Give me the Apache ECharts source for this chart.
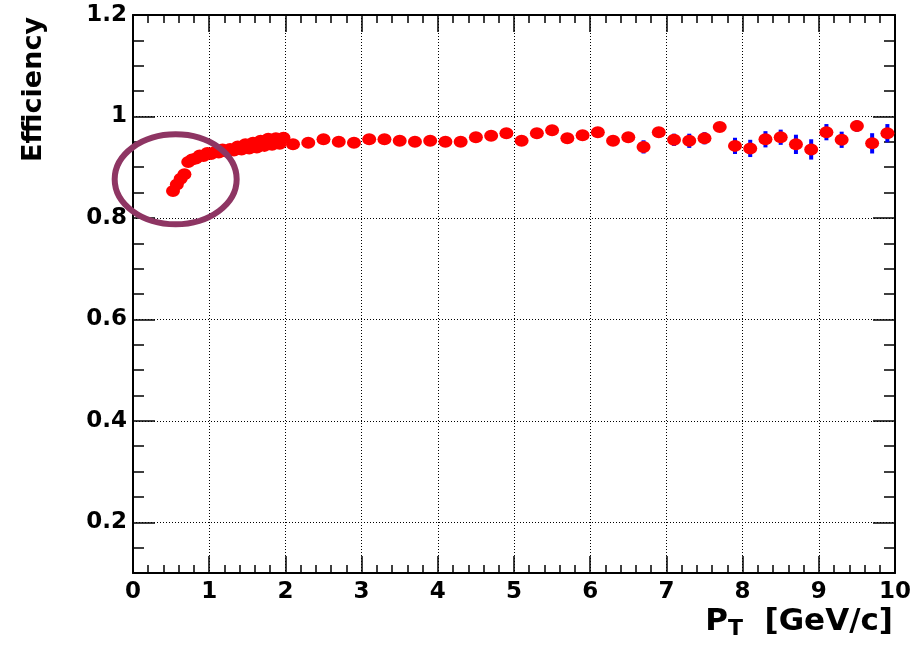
<!DOCTYPE html>
<html>
<head>
<meta charset="utf-8">
<script src="https://cdn.jsdelivr.net/npm/echarts@6/dist/echarts.min.js"></script>
<style>
  html, body { margin: 0; padding: 0; background: #fff; }
  #chart { width: 913px; height: 646px; }
</style>
</head>
<body>
<div id="chart"></div>
<script>
// pT bin centres [GeV/c]
const pt = [
  0.525, 0.575, 0.625, 0.675, 0.725, 0.775, 0.825, 0.875, 0.925, 0.975,
  1.025, 1.075, 1.125, 1.175, 1.225, 1.275, 1.325, 1.375, 1.425, 1.475,
  1.525, 1.575, 1.625, 1.675, 1.725, 1.775, 1.825, 1.875, 1.925, 1.975,
  2.1, 2.3, 2.5, 2.7, 2.9, 3.1, 3.3, 3.5, 3.7, 3.9,
  4.1, 4.3, 4.5, 4.7, 4.9, 5.1, 5.3, 5.5, 5.7, 5.9,
  6.1, 6.3, 6.5, 6.7, 6.9, 7.1, 7.3, 7.5, 7.7, 7.9,
  8.1, 8.3, 8.5, 8.7, 8.9, 9.1, 9.3, 9.5, 9.7, 9.9
];
const eff = [
  0.853, 0.866, 0.877, 0.886, 0.910, 0.915, 0.917, 0.923, 0.922, 0.928,
  0.926, 0.930, 0.929, 0.935, 0.931, 0.936, 0.933, 0.941, 0.935, 0.945,
  0.937, 0.948, 0.939, 0.952, 0.942, 0.956, 0.944, 0.957, 0.946, 0.958,
  0.945, 0.948, 0.955, 0.950, 0.948, 0.955, 0.955, 0.952, 0.950, 0.952,
  0.950, 0.950, 0.959, 0.962, 0.967, 0.952, 0.967, 0.973, 0.957, 0.963,
  0.969, 0.952, 0.959, 0.940, 0.969, 0.954, 0.952, 0.957, 0.979, 0.942,
  0.937, 0.955, 0.959, 0.945, 0.935, 0.969, 0.954, 0.981, 0.947, 0.967
];
const effErr = [
  0.003, 0.003, 0.003, 0.003, 0.003, 0.003, 0.003, 0.003, 0.003, 0.003,
  0.003, 0.003, 0.003, 0.003, 0.003, 0.003, 0.003, 0.003, 0.003, 0.003,
  0.003, 0.003, 0.003, 0.003, 0.003, 0.003, 0.003, 0.003, 0.003, 0.003,
  0.004, 0.004, 0.004, 0.004, 0.004, 0.005, 0.005, 0.005, 0.005, 0.005,
  0.005, 0.006, 0.006, 0.006, 0.006, 0.007, 0.007, 0.007, 0.007, 0.007,
  0.008, 0.008, 0.009, 0.013, 0.008, 0.012, 0.014, 0.012, 0.008, 0.016,
  0.017, 0.016, 0.015, 0.019, 0.020, 0.016, 0.016, 0.011, 0.020, 0.018
];
const yTicks = [0.2, 0.4, 0.6, 0.8, 1, 1.2];

const black = '#000';
const labelFont = { color: black, fontFamily: 'DejaVu Sans', fontWeight: 'bold', fontSize: 23 };

const chart = echarts.init(document.getElementById('chart'));

function xAxisDef(pos) {
  return {
    type: 'value',
    position: pos,
    min: 0,
    max: 10,
    interval: 1,
    axisLine: { show: true, onZero: false, lineStyle: { color: black, width: 2 } },
    axisTick: { show: true, inside: true, length: 17, lineStyle: { color: black, width: 1.5 } },
    minorTick: { show: true, splitNumber: 5, length: 8, lineStyle: { color: black, width: 1.5 } },
    axisLabel: pos === 'bottom' ? Object.assign({ margin: 8 }, labelFont) : { show: false },
    splitLine: pos === 'bottom'
      ? { show: true, lineStyle: { color: black, width: 1, type: [1, 2] } }
      : { show: false },
  };
}

function yMajorDef(pos) {
  return {
    type: 'value',
    position: pos,
    min: 0.1,
    max: 1.2,
    axisLine: { show: true, onZero: false, lineStyle: { color: black, width: 2 } },
    axisTick: { show: true, inside: true, length: 22, customValues: yTicks, lineStyle: { color: black, width: 1.5 } },
    axisLabel: pos === 'left'
      ? Object.assign({ margin: 6, customValues: yTicks }, labelFont)
      : { show: false },
    splitLine: pos === 'left'
      ? { show: true, lineStyle: { color: black, width: 1, type: [1, 2] } }
      : { show: false },
  };
}

function yMinorDef(pos) {
  return {
    type: 'value',
    position: pos,
    min: 0.1,
    max: 1.2,
    interval: 0.05,
    axisLine: { show: false, onZero: false },
    axisTick: { show: true, inside: true, length: 11, lineStyle: { color: black, width: 1.5 } },
    axisLabel: { show: false },
    splitLine: { show: false },
  };
}

const xMain = xAxisDef('bottom');
xMain.name = '{a|P}{b|T}{a|  [GeV/c]}';
xMain.nameLocation = 'end';
xMain.nameGap = -2;
xMain.nameMoveOverlap = false;
xMain.nameTextStyle = {
  align: 'right',
  verticalAlign: 'top',
  padding: [31, 0, 0, 0],
  rich: {
    a: { fontFamily: 'DejaVu Sans', fontWeight: 'bold', fontSize: 31, color: black },
    b: { fontFamily: 'DejaVu Sans', fontWeight: 'bold', fontSize: 22, color: black, padding: [14, 0, 0, 0] },
  },
};

const yMain = yMajorDef('left');
yMain.name = 'Efficiency';
yMain.nameLocation = 'end';
yMain.nameRotate = 90;
yMain.nameGap = -2;
yMain.nameMoveOverlap = false;
yMain.nameTextStyle = {
  fontFamily: 'DejaVu Sans',
  fontWeight: 'bold',
  fontSize: 27,
  color: black,
  align: 'right',
  verticalAlign: 'bottom',
  padding: [0, 0, 86, 0],
};

const options = {
  backgroundColor: '#fff',
  animation: false,
  grid: { left: 133, right: 18, top: 15, bottom: 73, containLabel: false, outerBoundsMode: 'none' },
  xAxis: [xMain, xAxisDef('top')],
  yAxis: [yMain, yMinorDef('left'), yMajorDef('right'), yMinorDef('right')],
  series: [
    {
      type: 'custom',
      xAxisIndex: 0,
      yAxisIndex: 0,
      z: 2,
      silent: true,
      data: pt.map((p, i) => [p, eff[i], effErr[i]]),
      encode: { x: 0, y: 1 },
      renderItem: (params, api) => {
        const x = api.value(0);
        const y = api.value(1);
        const e = api.value(2);
        const top = api.coord([x, y + e]);
        const bot = api.coord([x, y - e]);
        return {
          type: 'rect',
          shape: { x: top[0] - 2, y: top[1], width: 4, height: bot[1] - top[1] },
          style: { fill: '#0000ff' },
        };
      },
    },
    {
      type: 'scatter',
      xAxisIndex: 0,
      yAxisIndex: 0,
      z: 3,
      silent: true,
      symbol: 'circle',
      symbolSize: [14, 12],
      itemStyle: { color: '#ff0000', opacity: 1 },
      data: pt.map((p, i) => [p, eff[i]]),
    },
  ],
};

chart.setOption(options);

// highlight ring around the low-pT turn-on
const c = chart.convertToPixel({ seriesIndex: 1 }, [0.56, 0.876]);
chart.setOption({
  graphic: [{
    type: 'ellipse',
    z: 100,
    silent: true,
    shape: { cx: c[0], cy: c[1], rx: 61, ry: 45 },
    style: { fill: 'none', stroke: '#8e3563', lineWidth: 6 },
  }],
});
</script>
</body>
</html>
